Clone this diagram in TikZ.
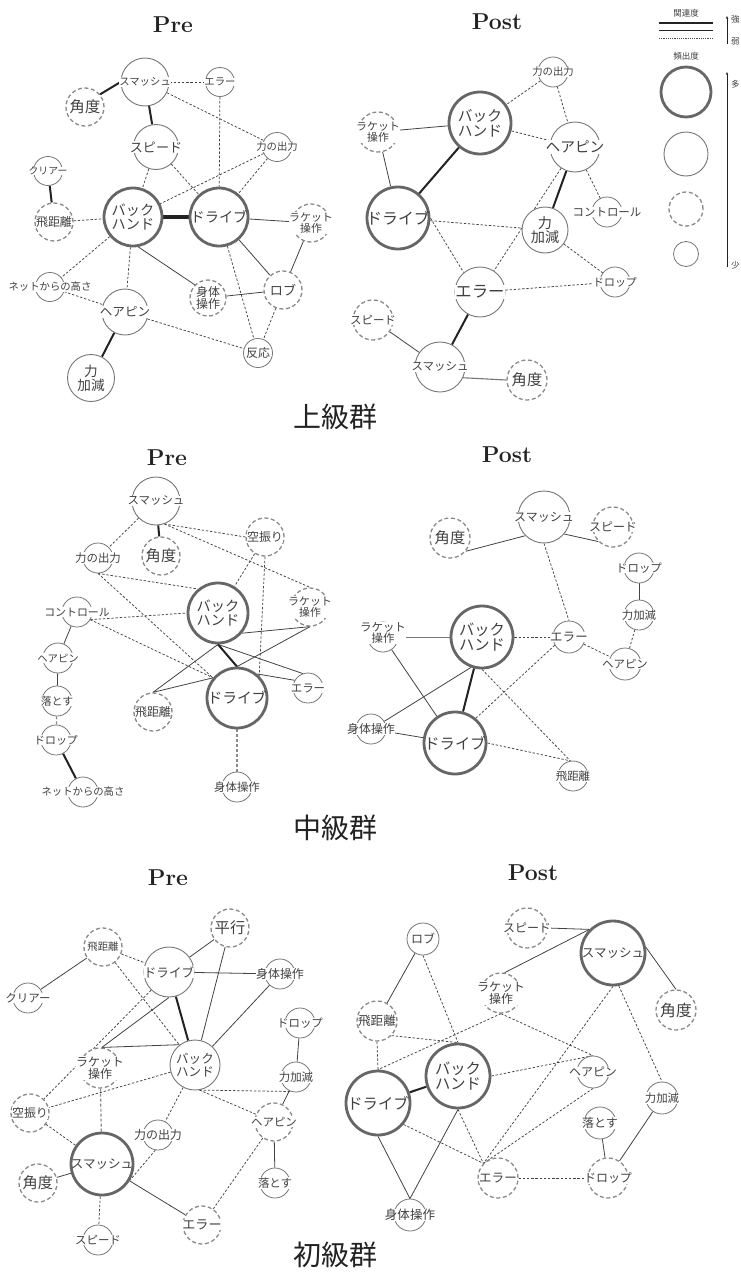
\documentclass[tikz,border=0pt]{standalone}
\usepackage{fontspec}
\newfontfamily\jpfont{Noto Sans CJK JP}
\usetikzlibrary{arrows.meta}
\pgfdeclarelayer{paper}
\pgfdeclarelayer{links}
\pgfsetlayers{paper,links,main}

\definecolor{rimA}{HTML}{666666}
\definecolor{rimB}{HTML}{767676}
\definecolor{rimC}{HTML}{8A8A8A}
\definecolor{ink}{HTML}{222222}
\definecolor{txtc}{HTML}{404040}

\tikzset{
  nA/.style={circle, draw=rimA, line width=2.8pt, fill=white, minimum size=#1, inner sep=0pt},
  nB/.style={circle, draw=rimB, line width=0.9pt, fill=white, minimum size=#1, inner sep=0pt},
  nC/.style={circle, draw=rimC, line width=1.3pt, dash pattern=on 4pt off 2.6pt, fill=white, minimum size=#1, inner sep=0pt},
  nD/.style={circle, draw=rimB, line width=0.8pt, fill=white, minimum size=#1, inner sep=0pt},
  tx/.style={font=\jpfont\fontsize{\dimexpr#1pt*109/100\relax}{\dimexpr#1pt*111/100\relax}\selectfont, text=txtc, align=center, fill=white, inner sep=0.3pt},
  bare/.style={fill=none},
  eA/.style={draw=ink, line width=3.2pt},
  eB/.style={draw=ink, line width=2pt},
  eC/.style={draw=ink!85, line width=0.8pt},
  eD/.style={draw=ink!85, line width=0.75pt, dash pattern=on 2.4pt off 1.8pt},
  eG/.style={draw=rimC, line width=1.2pt, dash pattern=on 3pt off 2pt},
  ttl/.style={font=\bfseries\fontsize{23}{23}\selectfont, text=ink},
  grp/.style={font=\jpfont\fontsize{28}{28}\selectfont, text=ink},
  leg/.style={font=\jpfont\fontsize{8.5}{8.5}\selectfont, text=txtc, inner sep=0pt},
}

\begin{document}
\begin{tikzpicture}[x=1pt, y=-1pt]
\begin{pgfonlayer}{paper}
  \fill[white] (0,0) rectangle (741,1274);
\end{pgfonlayer}
\useasboundingbox (0,0) rectangle (741,1274);

% ---------- titles ----------
\node[ttl] (tPre1) at (173,25) {Pre};
\node[ttl] (tPost1) at (497,22) {Post};
\node[grp] (g1) at (335,417) {上級群};
\node[ttl] (tPre2) at (167,458) {Pre};
\node[ttl] (tPost2) at (507,455) {Post};
\node[grp] (g2) at (335,828) {中級群};
\node[ttl] (tPre3) at (168,878) {Pre};
\node[ttl] (tPost3) at (533,873) {Post};
\node[grp] (g3) at (335,1255) {初級群};

% ---------- legend ----------
\node[leg] (lgR) at (686,13) {関連度};
\coordinate (lgS1) at (659,23); \coordinate (lgS2) at (713,23);
\coordinate (lgT1) at (659,30); \coordinate (lgT2) at (713,30);
\coordinate (lgD1) at (659,38); \coordinate (lgD2) at (713,38);
\draw[ink, line width=2pt] (lgS1) -- (lgS2);
\draw[ink, line width=0.8pt] (lgT1) -- (lgT2);
\draw[ink!80, line width=0.6pt, dash pattern=on 1.2pt off 1pt] (lgD1) -- (lgD2);
\coordinate (lgA0) at (727,44); \coordinate (lgA1) at (727,16);
\draw[ink, line width=0.6pt, -{Stealth[length=3pt, width=2.4pt]}] (lgA0) -- (lgA1);
\node[leg, anchor=west] (lgStr) at (731,19) {強};
\node[leg, anchor=west] (lgWk) at (731,41) {弱};
\node[leg] (lgF) at (686,56) {頻出度};
\node[nA=50] (lgC1) at (686,92) {};
\node[nB=44] (lgC2) at (686,154) {};
\node[nC=34] (lgC3) at (686,209) {};
\node[nD=25] (lgC4) at (686,254) {};
\coordinate (lgB0) at (727,267); \coordinate (lgB1) at (727,72);
\draw[ink, line width=0.6pt, -{Stealth[length=3pt, width=2.4pt]}] (lgB0) -- (lgB1);
\node[leg, anchor=west] (lgMany) at (731,84) {多};
\node[leg, anchor=west] (lgFew) at (731,265) {少};

% ---------- upper group, Pre ----------
\node[nB=48, label={[tx=9.5]center:スマッシュ}] (aSm) at (145,82) {};
\node[nD=29, label={[tx=9.5]center:エラー}] (aEr) at (220,82) {};
\node[nC=38, label={[tx=14]center:角度}] (aKa) at (85,107) {};
\node[nB=45, label={[tx=12]center:スピード}] (aSp) at (156,147) {};
\node[nD=29, label={[tx=9.5]center:力の出力}] (aCh) at (277,147) {};
\node[nD=29, label={[tx=9]center:クリアー}] (aCl) at (48,171) {};
\node[nC=38, label={[tx=11, bare]center:飛距離}] (aHi) at (54,222) {};
\node[nA=58, label={[tx=13, bare]center:{バック\\ハンド}}] (aBh) at (133,217) {};
\node[nA=58, label={[tx=13, bare]center:ドライブ}] (aDr) at (219,217) {};
\node[nC=38, label={[tx=10]center:{ラケット\\操作}}] (aRk) at (311,223) {};
\node[nD=29, label={[tx=9.5]center:ネットからの高さ}] (aNe) at (50,287) {};
\node[nB=46, label={[tx=11.5]center:ヘアピン}] (aHp) at (125,312) {};
\node[nC=36, label={[tx=11]center:{身体\\操作}}] (aSt) at (208,298) {};
\node[nC=38, label={[tx=12]center:ロブ}] (aRb) at (283,290) {};
\node[nD=29, label={[tx=11]center:反応}] (aHn) at (258,353) {};
\node[nB=47, label={[tx=12.5]center:{力\\加減}}] (aCk) at (91,378) {};

% ---------- upper group, Post ----------
\node[nD=30, label={[tx=9.5]center:力の出力}] (bCh) at (553,72) {};
\node[nA=62, label={[tx=13.5, bare]center:{バック\\ハンド}}] (bBh) at (480,123) {};
\node[nC=40, label={[tx=10]center:{ラケット\\操作}}] (bRk) at (378,132) {};
\node[nB=50, label={[tx=13.5]center:ヘアピン}] (bHp) at (575,147) {};
\node[nA=62, label={[tx=14.5, bare]center:ドライブ}] (bDr) at (398,218) {};
\node[nD=30, label={[tx=10.5]center:コントロール}] (bCo) at (607,212) {};
\node[nB=46, label={[tx=13]center:{力\\加減}}] (bCk) at (545,230) {};
\node[nD=30, label={[tx=10]center:ドロップ}] (bDp) at (615,282) {};
\node[nB=50, label={[tx=15]center:エラー}] (bEr) at (480,292) {};
\node[nC=40, label={[tx=10.5]center:スピード}] (bSp) at (373,320) {};
\node[nB=50, label={[tx=10.5]center:スマッシュ}] (bSm) at (440,367) {};
\node[nC=40, label={[tx=14]center:角度}] (bKa) at (527,380) {};

% ---------- middle group, Pre ----------
\node[nB=48, label={[tx=10.5]center:スマッシュ}] (cSm) at (156,501) {};
\node[nC=38, label={[tx=14]center:角度}] (cKa) at (161,556) {};
\node[nD=30, label={[tx=10.5]center:力の出力}] (cCh) at (98,558) {};
\node[nC=38, label={[tx=11]center:空振り}] (cKu) at (265,537) {};
\node[nA=60, label={[tx=13, bare]center:{バック\\ハンド}}] (cBh) at (218,613) {};
\node[nC=38, label={[tx=10]center:{ラケット\\操作}}] (cRk) at (310,607) {};
\node[nD=30, label={[tx=10]center:コントロール}] (cCo) at (77,612) {};
\node[nD=30, label={[tx=9.5]center:ヘアピン}] (cHp) at (58,658) {};
\node[nD=30, label={[tx=10]center:落とす}] (cOt) at (57,701) {};
\node[nD=30, label={[tx=10]center:ドロップ}] (cDp) at (56,740) {};
\node[nD=30, label={[tx=9.5]center:ネットからの高さ}] (cNe) at (83,792) {};
\node[nC=38, label={[tx=11, bare]center:飛距離}] (cHi) at (153,712) {};
\node[nA=60, label={[tx=13.5, bare]center:ドライブ}] (cDr) at (237,698) {};
\node[nD=30, label={[tx=10.5]center:エラー}] (cEr) at (308,688) {};
\node[nD=30, label={[tx=10.5]center:身体操作}] (cSt) at (237,787) {};

% ---------- middle group, Post ----------
\node[nB=52, label={[tx=11]center:スマッシュ}] (dSm) at (544,517) {};
\node[nC=40, label={[tx=14]center:角度}] (dKa) at (450,538) {};
\node[nC=40, label={[tx=11]center:スピード}] (dSp) at (613,527) {};
\node[nD=30, label={[tx=10.5]center:ドロップ}] (dDp) at (639,568) {};
\node[nD=30, label={[tx=10.5]center:力加減}] (dCk) at (639,615) {};
\node[nD=30, label={[tx=10.5, yshift=4pt]center:{ラケット\\操作}}] (dRk) at (383,637) {};
\node[nA=62, label={[tx=14, bare]center:{バック\\ハンド}}] (dBh) at (482,637) {};
\node[nD=32, label={[tx=11.5]center:エラー}] (dEr) at (569,637) {};
\node[nD=32, label={[tx=10.5]center:ヘアピン}] (dHp) at (625,664) {};
\node[nD=30, label={[tx=11]center:身体操作}] (dSt) at (371,729) {};
\node[nA=62, label={[tx=14, bare]center:ドライブ}] (dDr) at (455,743) {};
\node[nD=30, label={[tx=10.5]center:飛距離}] (dHi) at (573,776) {};

% ---------- lower group, Pre ----------
\node[nC=38, label={[tx=14]center:平行}] (eHe) at (230,928) {};
\node[nC=38, label={[tx=9.5]center:飛距離}] (eHi) at (103,947) {};
\node[nB=50, label={[tx=11.5]center:ドライブ}] (eDr) at (169,972) {};
\node[nD=30, label={[tx=11]center:身体操作}] (eSt) at (280,974) {};
\node[nD=30, label={[tx=10.5]center:クリアー}] (eCl) at (28,998) {};
\node[nD=30, label={[tx=10.5]center:ドロップ}] (eDp) at (300,1023) {};
\node[nC=40, label={[tx=11]center:{ラケット\\操作}}] (eRk) at (100,1068) {};
\node[nB=50, label={[tx=11.5]center:{バック\\ハンド}}] (eBh) at (195,1065) {};
\node[nD=30, label={[tx=10.5]center:力加減}] (eCk) at (296,1077) {};
\node[nC=38, label={[tx=11]center:空振り}] (eKu) at (30,1113) {};
\node[nC=38, label={[tx=10.5]center:ヘアピン}] (eHp) at (274,1122) {};
\node[nD=30, label={[tx=11]center:力の出力}] (eCh) at (158,1135) {};
\node[nA=62, label={[tx=11.5, bare]center:スマッシュ}] (eSm) at (102,1164) {};
\node[nC=38, label={[tx=14]center:角度}] (eKa) at (38,1183) {};
\node[nD=30, label={[tx=10.5]center:落とす}] (eOt) at (275,1183) {};
\node[nC=38, label={[tx=12]center:エラー}] (eEr) at (202,1225) {};
\node[nD=30, label={[tx=10.5]center:スピード}] (eSpd) at (98,1240) {};

% ---------- lower group, Post ----------
\node[nC=40, label={[tx=11]center:スピード}] (fSp) at (527,928) {};
\node[nD=32, label={[tx=11]center:ロブ}] (fRb) at (423,939) {};
\node[nA=64, label={[tx=11.5, bare]center:スマッシュ}] (fSm) at (613,953) {};
\node[nC=40, label={[tx=11]center:{ラケット\\操作}}] (fRk) at (501,993) {};
\node[nC=40, label={[tx=14.5]center:角度}] (fKa) at (676,1010) {};
\node[nC=40, label={[tx=11.5, bare]center:飛距離}] (fHi) at (377,1021) {};
\node[nA=64, label={[tx=14, bare]center:{バック\\ハンド}}] (fBh) at (458,1076) {};
\node[nD=32, label={[tx=11]center:ヘアピン}] (fHp) at (593,1072) {};
\node[nA=64, label={[tx=14, bare]center:ドライブ}] (fDr) at (378,1103) {};
\node[nD=32, label={[tx=10.5]center:力加減}] (fCk) at (662,1098) {};
\node[nD=32, label={[tx=11]center:落とす}] (fOt) at (600,1123) {};
\node[nC=40, label={[tx=11.5]center:エラー}] (fEr) at (498,1178) {};
\node[nC=40, label={[tx=11]center:ドロップ}] (fDp) at (608,1178) {};
\node[nD=32, label={[tx=11.5]center:身体操作}] (fSt) at (410,1215) {};

% ---------- links ----------
\begin{pgfonlayer}{links}
% upper Pre
\draw[eB] (aSm.west) -- (aKa.40);
\draw[eB] (aSm) -- (aSp);
\draw[eD] (aSm) -- (aEr);
\draw[eD] (aSm) -- (aCh);
\draw[eD] (aEr) -- (aDr);
\draw[eD] (aSp) -- (aBh);
\draw[eD] (aSp) -- (aDr);
\draw[eD] (aCh) -- (aBh);
\draw[eD] (aCh) -- (aDr);
\draw[eB] (aCl) -- (aHi);
\draw[eD] (aHi) -- (aBh);
\draw[eA] (aBh) -- (aDr);
\draw[eC] (aDr) -- (aRk);
\draw[eC] (aDr) -- (aRb);
\draw[eC] (aRk) -- (aRb);
\draw[eD] (aDr) -- (aHn);
\draw[eD] (aRb) -- (aHn);
\draw[eD] (aBh) -- (aNe);
\draw[eD] (aBh) -- (aHp);
\draw[eC] (aBh.-80) -- (aSt.135);
\draw[eC] (aSt) -- (aRb);
\draw[eD] (aNe) -- (aHp);
\draw[eD] (aHp) -- (aHn);
\draw[eB] (aHp) -- (aCk);
% upper Post
\draw[eD] (bCh) -- (bBh);
\draw[eD] (bCh) -- (bHp);
\draw[eC] (bBh) -- (bRk);
\draw[eD] (bBh) -- (bHp);
\draw[eB] (bBh) -- (bDr);
\draw[eC] (bRk) -- (bDr);
\draw[eB] (bHp) -- (bCk);
\draw[eD] (bHp) -- (bCo);
\draw[eD] (bHp) -- (bEr);
\draw[eD] (bDr) -- (bCk);
\draw[eD] (bDr.east) -- (bEr.130);
\draw[eD] (bCk) -- (bDp);
\draw[eD] (bEr) -- (bDp);
\draw[eB] (bEr) -- (bSm);
\draw[eC] (bSp) -- (bSm);
\draw[eC, draw=rimB, line width=1.1pt] (bSm.-25) -- (bKa.west);
% middle Pre
\draw[eB] (cSm) -- (cKa);
\draw[eD] (cSm) -- (cCh);
\draw[eD] (cSm.-70) -- (cKu.west);
\draw[eD] (cSm.-70) -- (cRk.north);
\draw[eD] (cKu) -- (cBh);
\draw[eD] (cKu.south) -- (cDr.45);
\draw[eD] (cCh.south) -- (cBh.130);
\draw[eD] (cCh.south) -- (cDr.140);
\draw[eD] (cCo.-30) -- (cBh.west);
\draw[eD] (cCo.-30) -- (cDr.140);
\draw[eC] (cCo) -- (cHp);
\draw[eC] (cHp) -- (cOt);
\draw[eG] (cOt) -- (cDp);
\draw[eB] (cDp) -- (cNe);
\draw[eC] (cBh.-40) -- (cRk.south);
\draw[eC] (cBh.south) -- (cHi.north);
\draw[eC] (cBh.south) -- (cEr.110);
\draw[eB] (cBh.south) -- (cDr.north);
\draw[eC] (cRk.south) -- (cDr.north);
\draw[eC] (cHi.north) -- (cDr.140);
\draw[eC] (cDr.50) -- (cEr.150);
\draw[eG] (cDr) -- (cSt);
% middle Post
\draw[eC] (dKa.-40) -- (dSm.-135);
\draw[eC] (dSm.-40) -- (dSp.-135);
\draw[eD] (dSm.south) -- (dEr.north);
\draw[eC] (dDp) -- (dCk);
\draw[eD] (dCk) -- (dHp);
\draw[eC, draw=rimB] (dRk) -- (dBh);
\draw[eC] (dRk) -- (dDr);
\draw[eD] (dBh) -- (dEr);
\draw[eD] (dEr) -- (dHp);
\draw[eC] (dBh.-110) -- (dSt.30);
\draw[eB] (dBh) -- (dDr);
\draw[eD] (dBh.south) -- (dHi.100);
\draw[eC] (dSt) -- (dDr);
\draw[eD] (dDr.50) -- (dEr.-150);
\draw[eD] (dDr.east) -- (dHi.100);
% lower Pre
\draw[eC] (eHi) -- (eCl);
\draw[eD] (eHi) -- (eDr);
\draw[eD] (eHi) -- (eBh);
\draw[eC] (eDr) -- (eHe);
\draw[eC] (eDr) -- (eSt);
\draw[eB] (eDr) -- (eBh);
\draw[eC] (eDr.south) -- (eRk.85);
\draw[eD] (eDr) -- (eKu);
\draw[eC] (eHe) -- (eBh);
\draw[eC] (eSt) -- (eBh);
\draw[eC] (eRk.85) -- (eBh.127);
\draw[eG] (eRk) -- (eSm);
\draw[eD] (eBh) -- (eKu);
\draw[eD] (eBh.-80) -- (eCk.-110);
\draw[eD] (eBh.-80) -- (eHp);
\draw[eD] (eBh) -- (eCh);
\draw[eC] (eDp) -- (eCk);
\draw[eC] (eCk) -- (eHp);
\draw[eC] (eHp) -- (eOt);
\draw[eD] (eHp) -- (eEr);
\draw[eD] (eKu) -- (eSm);
\draw[eD] (eCh.-100) -- (eSm.-30);
\draw[eC] (eSm) -- (eKa);
\draw[eC] (eSm) -- (eEr);
\draw[eD] (eSm) -- (eSpd);
% lower Post
\draw[eC] (fSp.east) -- (fSm.135);
\draw[eC] (fSm.135) -- (fRk.80);
\draw[eC] (fSm.10) -- (fKa.north);
\draw[eD] (fSm.south) -- (fEr.135);
\draw[eD] (fSm.-80) -- (fCk.north);
\draw[eC] (fRb) -- (fHi);
\draw[eD] (fRb.south) -- (fBh.north);
\draw[eD] (fRk.south) -- (fDr.north);
\draw[eD] (fRk.south) -- (fHp.north);
\draw[eD] (fHi.south) -- (fDr.north);
\draw[eD] (fHi.-45) -- (fBh.north);
\draw[eB] (fBh) -- (fDr);
\draw[eD] (fBh.east) -- (fHp.north);
\draw[eC] (fBh.south) -- (fSt.north);
\draw[eD] (fBh.south) -- (fEr.135);
\draw[eC] (fDr.south) -- (fSt.north);
\draw[eD] (fDr.-40) -- (fEr.135);
\draw[eD] (fHp.south) -- (fEr.135);
\draw[eD] (fEr.east) -- (fDp.west);
\draw[eC] (fOt) -- (fDp);
\draw[eC] (fCk) -- (fDp);
\end{pgfonlayer}
\end{tikzpicture}
\end{document}
